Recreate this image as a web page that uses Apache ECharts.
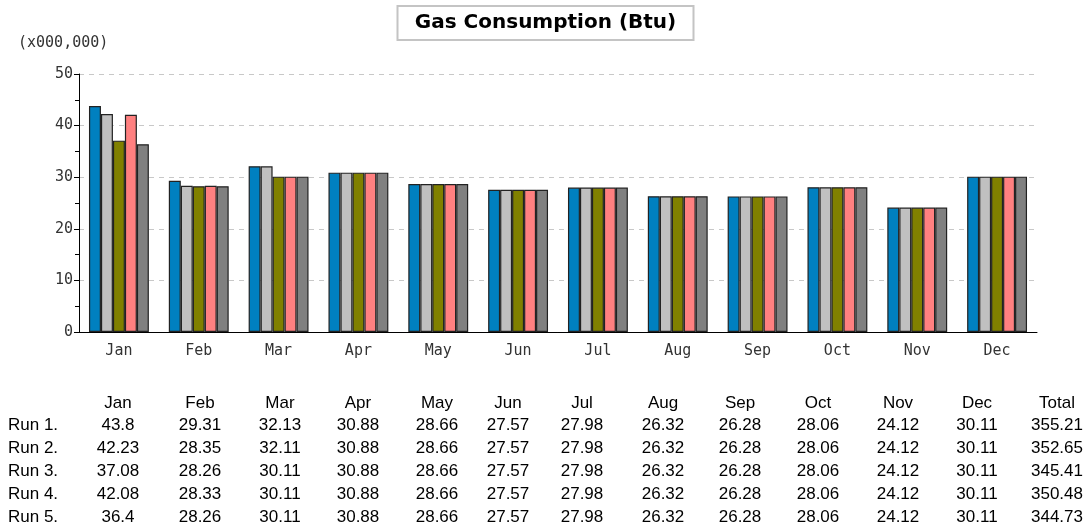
<!DOCTYPE html>
<html>
<head>
<meta charset="utf-8">
<script src="https://cdn.jsdelivr.net/npm/echarts@6/dist/echarts.min.js"></script>
<style>
  html, body { margin: 0; padding: 0; background: #fff; }
  #chart { width: 1091px; height: 531px; }
</style>
</head>
<body>
<div id="chart"></div>
<script>
// data
const months = ['Jan', 'Feb', 'Mar', 'Apr', 'May', 'Jun', 'Jul', 'Aug', 'Sep', 'Oct', 'Nov', 'Dec'];
const runNames = ['Run 1.', 'Run 2.', 'Run 3.', 'Run 4.', 'Run 5.'];
const run1 = [43.8, 29.31, 32.13, 30.88, 28.66, 27.57, 27.98, 26.32, 26.28, 28.06, 24.12, 30.11];
const run2 = [42.23, 28.35, 32.11, 30.88, 28.66, 27.57, 27.98, 26.32, 26.28, 28.06, 24.12, 30.11];
const run3 = [37.08, 28.26, 30.11, 30.88, 28.66, 27.57, 27.98, 26.32, 26.28, 28.06, 24.12, 30.11];
const run4 = [42.08, 28.33, 30.11, 30.88, 28.66, 27.57, 27.98, 26.32, 26.28, 28.06, 24.12, 30.11];
const run5 = [36.4, 28.26, 30.11, 30.88, 28.66, 27.57, 27.98, 26.32, 26.28, 28.06, 24.12, 30.11];
const totals = [355.21, 352.65, 345.41, 350.48, 344.73];
const yTicks = [0, 10, 20, 30, 40, 50];

const runs = [run1, run2, run3, run4, run5];
const colors = ['#0080c0', '#c0c0c0', '#808000', '#ff8080', '#808080'];

// table layout
const colX = [118, 200, 280, 358, 437, 508, 582, 663, 740, 818, 898, 977, 1057];
const headerY = 403;
const rowStep = 22.8;
const tableFont = '17px "Liberation Sans", Arial, sans-serif';
const axisFont = 'DejaVu Sans Mono';

let myChart = echarts.init(document.getElementById('chart'));

let tableItems = [];
months.concat(['Total']).forEach(function (m, i) {
  tableItems.push({
    type: 'text', x: colX[i], y: headerY,
    style: { text: m, font: tableFont, fill: '#000', align: 'center', verticalAlign: 'middle' }
  });
});
runs.forEach(function (r, ri) {
  let y = headerY + rowStep * (ri + 1);
  tableItems.push({
    type: 'text', x: 8, y: y,
    style: { text: runNames[ri], font: tableFont, fill: '#000', align: 'left', verticalAlign: 'middle' }
  });
  r.concat([totals[ri]]).forEach(function (v, i) {
    tableItems.push({
      type: 'text', x: colX[i], y: y,
      style: { text: String(v), font: tableFont, fill: '#000', align: 'center', verticalAlign: 'middle' }
    });
  });
});

myChart.setOption({
  animation: false,
  title: {
    text: 'Gas Consumption (Btu)',
    left: 'center',
    top: 6,
    padding: [7, 18, 7, 18],
    borderColor: '#c4c4c4',
    borderWidth: 2,
    textStyle: {
      fontFamily: 'DejaVu Sans',
      fontWeight: 'bold',
      fontSize: 20,
      color: '#000'
    }
  },
  grid: {
    left: 79,
    right: 54,
    top: 74,
    bottom: 199
  },
  xAxis: {
    type: 'category',
    data: months,
    axisLine: { lineStyle: { color: '#000', width: 1 } },
    axisTick: { alignWithLabel: true, length: 4, lineStyle: { color: '#000' } },
    axisLabel: {
      margin: 12,
      color: '#333',
      fontFamily: axisFont,
      fontSize: 15
    }
  },
  yAxis: {
    type: 'value',
    min: yTicks[0],
    max: yTicks[yTicks.length - 1],
    interval: 10,
    name: '(x000,000)',
    nameLocation: 'end',
    nameGap: 23,
    nameTextStyle: {
      align: 'left',
      padding: [0, 0, 0, -61],
      color: '#333',
      fontFamily: axisFont,
      fontSize: 15
    },
    axisLine: { show: true, lineStyle: { color: '#000', width: 1 } },
    axisTick: { show: true, length: 5, lineStyle: { color: '#000' } },
    minorTick: { show: true, splitNumber: 2, length: 4, lineStyle: { color: '#000' } },
    axisLabel: {
      margin: 6,
      color: '#333',
      fontFamily: axisFont,
      fontSize: 15
    },
    splitLine: {
      lineStyle: { color: '#c8c8c8', type: [5, 5], width: 1 }
    }
  },
  series: runs.map(function (r, i) {
    return {
      name: runNames[i],
      type: 'bar',
      data: r,
      barGap: '0%',
      barCategoryGap: '25%',
      itemStyle: {
        color: colors[i],
        borderColor: '#222',
        borderWidth: 1.2
      }
    };
  }),
  graphic: tableItems
});
</script>
</body>
</html>
